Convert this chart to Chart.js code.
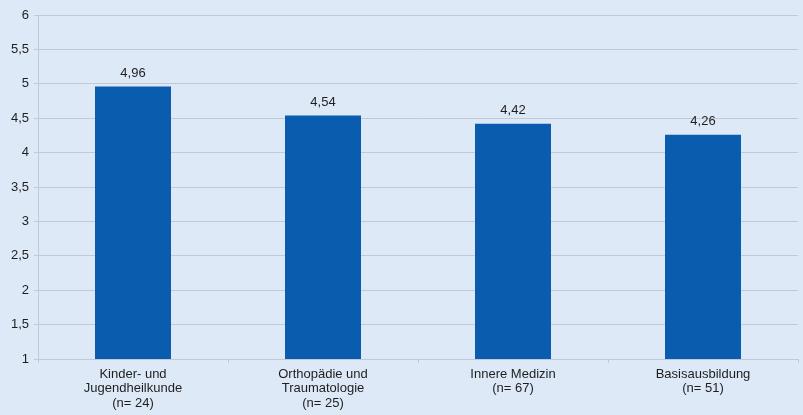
<!DOCTYPE html>
<html>
<head>
<meta charset="utf-8">
<script src="https://cdn.jsdelivr.net/npm/chart.js@4"></script>
<style>
    html, body { margin: 0; padding: 0; background: #dee9f7; }
    #wrap { width: 803px; height: 415px; }
</style>
</head>
<body>
<div id="wrap"><canvas id="chart" width="803" height="415"></canvas></div>
<script>
// Chart data
const categories = [
    ['Kinder- und', 'Jugendheilkunde', '(n= 24)'],
    ['Orthopädie und', 'Traumatologie', '(n= 25)'],
    ['Innere Medizin', '(n= 67)'],
    ['Basisausbildung', '(n= 51)']
];
const scores = [4.96, 4.54, 4.42, 4.26];
const yTicks = [1, 1.5, 2, 2.5, 3, 3.5, 4, 4.5, 5, 5.5, 6];

const BAR_COLOR = '#0a5dae';
const TEXT_COLOR = '#1e1e1e';
const GRID_COLOR = '#c0c9d5';

// German decimal format
function formatDe(v) {
    return String(v).replace('.', ',');
}

// Draw value labels above bars
const valueLabels = {
    id: 'valueLabels',
    afterDatasetsDraw(chart) {
        const ctx = chart.ctx;
        const meta = chart.getDatasetMeta(0);
        ctx.save();
        ctx.font = '13px "Liberation Sans", Arial, sans-serif';
        ctx.fillStyle = TEXT_COLOR;
        ctx.textAlign = 'center';
        ctx.textBaseline = 'bottom';
        meta.data.forEach((bar, i) => {
            ctx.fillText(formatDe(scores[i]), bar.x, bar.y - 7);
        });
        ctx.restore();
    }
};

Chart.defaults.font.family = '"Liberation Sans", Arial, sans-serif';
Chart.defaults.font.size = 13;
Chart.defaults.color = TEXT_COLOR;

new Chart(document.getElementById('chart'), {
    type: 'bar',
    data: {
        labels: categories,
        datasets: [{
            data: scores,
            backgroundColor: BAR_COLOR,
            borderWidth: 0,
            categoryPercentage: 1,
            barPercentage: 0.4
        }]
    },
    options: {
        responsive: false,
        animation: false,
        layout: {
            padding: { top: 15, right: 5, left: 0, bottom: 0 }
        },
        plugins: {
            legend: { display: false },
            tooltip: { enabled: false }
        },
        scales: {
            x: {
                offset: true,
                grid: {
                    offset: true,
                    drawOnChartArea: false,
                    color: GRID_COLOR,
                    tickLength: 4
                },
                border: { color: GRID_COLOR },
                ticks: {
                    padding: 4,
                    maxRotation: 0,
                    autoSkip: false,
                    font: { size: 13, lineHeight: 1.12 }
                },
                afterFit(scale) { scale.height = 56; }
            },
            y: {
                min: 1,
                max: 6,
                afterBuildTicks(scale) {
                    scale.ticks = yTicks.map(v => ({ value: v }));
                },
                grid: {
                    color: GRID_COLOR,
                    tickLength: 4
                },
                border: { color: GRID_COLOR },
                ticks: {
                    padding: 5,
                    callback: v => formatDe(v)
                },
                afterFit(scale) { scale.width = 38; }
            }
        }
    },
    plugins: [valueLabels]
});
</script>
</body>
</html>
